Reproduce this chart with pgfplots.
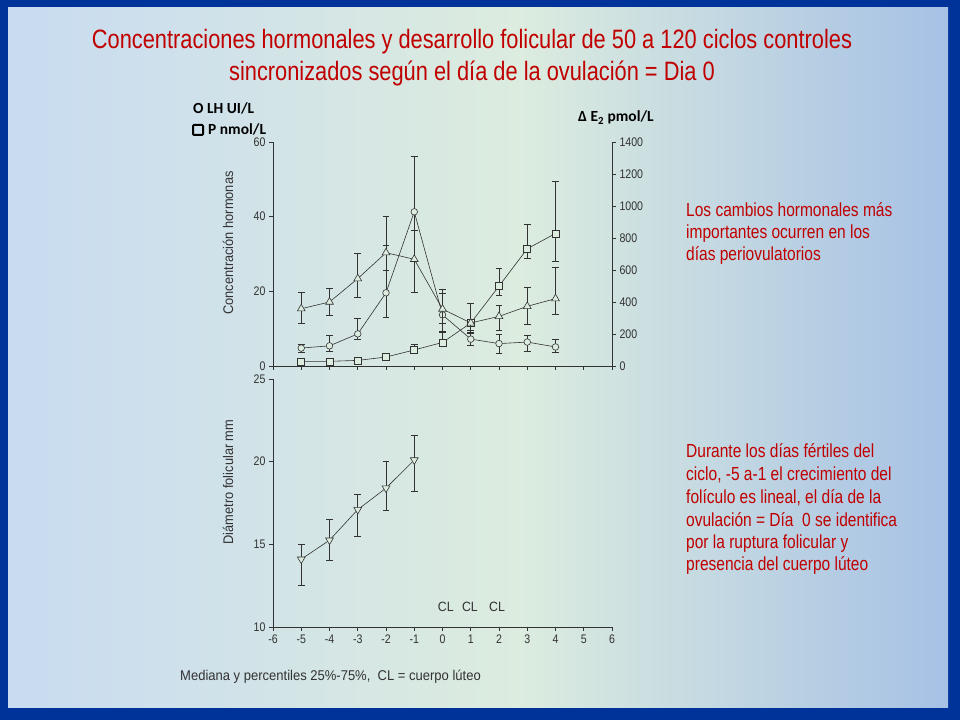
\documentclass[border=0pt]{standalone}
\usepackage{pgfplots}
\pgfplotsset{compat=1.18}
\usepackage{fontspec}
\setmainfont{Liberation Sans}
\newfontfamily\narrow[FakeStretch=0.82]{Liberation Sans}
\newfontfamily\chartf[FakeStretch=0.92]{Liberation Sans}
\newfontfamily\tickf[FakeStretch=0.85]{Liberation Sans}
\newfontfamily\calib{Carlito}
\definecolor{frame}{RGB}{0,51,153}
\definecolor{bgL}{RGB}{200,219,240}
\definecolor{bgM}{RGB}{220,236,223}
\definecolor{bgR}{RGB}{166,193,229}
\definecolor{titred}{RGB}{192,0,0}
\definecolor{ink}{RGB}{50,50,50}
\pgfplotsset{
  every axis/.append style={
    scale only axis, anchor=south west,
    axis line style={ink, line width=0.6pt},
    tick align=outside, major tick length=4bp,
    tick style={ink, line width=0.6pt},
    tick label style={font=\tickf\fontsize{12.5}{13}\selectfont, text=ink},
    /pgf/number format/assume math mode=true,
    /pgf/number format/1000 sep={},
    clip=false,
  },
  ser/.style={ink, line width=0.6pt,
    error bars/y dir=both, error bars/y explicit,
    error bars/error bar style={ink, line width=0.7pt},
    error bars/error mark options={ink, rotate=90, mark size=3.5pt, line width=0.8pt}},
}
\begin{document}
\begin{tikzpicture}[x=1bp,y=1bp]
\useasboundingbox (0,0) rectangle (960,720);
\fill[frame] (0,0) rectangle (960,720);
\shade[left color=bgL, right color=bgM] (8,12) rectangle (521,712);
\shade[left color=bgM, right color=bgR] (520,12) rectangle (948,712);

% title
\node[anchor=base, titred, font=\narrow\fontsize{26.7}{32}\selectfont] at (472,671) {Concentraciones hormonales y desarrollo folicular de 50 a 120 ciclos controles};
\node[anchor=base, titred, font=\narrow\fontsize{26.7}{32}\selectfont] at (472,639) {sincronizados según el día de la ovulación = Dia 0};

% top axis (LH, P)
\begin{axis}[at={(273bp,354bp)}, width=339bp, height=224bp,
  xmin=-6, xmax=6, ymin=0, ymax=60,
  axis x line*=bottom, axis y line*=left,
  xtick={-6,...,6}, xticklabels={}, ytick={0,20,40,60}]
\addplot+[mark=*, mark size=3.3pt, mark options={solid, fill=bgM, line width=0.6pt}, ser] table[x=x, y=y, y error plus=ep, y error minus=em] {
x y ep em
-5 4.8 0.9 1.2
-4 5.4 2.7 1.5
-3 8.6 4.1 1.5
-2 19.6 20.4 6.7
-1 41.3 14.8 21.7
0 13.7 6.7 4.6
1 7.2 1.6 1.8
2 6.0 2.4 2.5
3 6.4 1.8 2.6
4 5.1 2.0 1.5
};
\addplot+[mark=square*, mark size=3.5pt, mark options={solid, fill=bgM, line width=0.6pt}, ser] table[x=x, y=y, y error plus=ep, y error minus=em] {
x y ep em
-5 1.25 0 0
-4 1.25 0 0
-3 1.5 0 0
-2 2.4 0 0
-1 4.3 1.4 1.0
0 6.3 2.9 1.0
1 11.5 5.3 2.0
2 21.4 4.7 2.5
3 31.4 6.6 2.5
4 35.5 14.0 7.6
};
\end{axis}

% top axis right (E2)
\begin{axis}[at={(273bp,354bp)}, width=339bp, height=224bp,
  xmin=-6, xmax=6, ymin=0, ymax=1400,
  axis y line*=right, axis x line=none,
  ytick={0,200,...,1400}]
\addplot+[mark=triangle*, mark size=4.5pt, mark options={solid, fill=bgM, line width=0.6pt}, ser] table[x=x, y=y, y error plus=ep, y error minus=em] {
x y ep em
-5 358 104 89
-4 400 83 83
-3 546 156 119
-2 708 48 108
-1 667 183 209
0 356 100 90
1 269 125 60
2 310 69 89
3 373 121 111
4 421 194 100
};
\end{axis}

% bottom axis (follicle diameter)
\begin{axis}[at={(273bp,93bp)}, width=339bp, height=248bp,
  xmin=-6, xmax=6, ymin=10, ymax=25,
  axis x line*=bottom, axis y line*=left,
  xtick={-6,...,6}, ytick={10,15,20,25}]
\addplot+[mark=triangle*, mark size=4.5pt, mark options={solid, fill=bgM, line width=0.6pt, rotate=180}, ser] table[x=x, y=y, y error plus=ep, y error minus=em] {
x y ep em
-5 14.1 0.9 1.6
-4 15.25 1.25 1.25
-3 17.1 0.95 1.6
-2 18.4 1.6 1.35
-1 20.1 1.5 1.9
};
\node[ink, font=\chartf\fontsize{13.5}{15}\selectfont] at (axis cs:0.12,11.2) {CL};
\node[ink, font=\chartf\fontsize{13.5}{15}\selectfont] at (axis cs:0.97,11.2) {CL};
\node[ink, font=\chartf\fontsize{13.5}{15}\selectfont] at (axis cs:1.93,11.2) {CL};
\end{axis}

% axis titles
\node[rotate=90, ink, font=\chartf\fontsize{14}{15}\selectfont] at (228,477) {Concentración hormonas};
\node[rotate=90, ink, font=\chartf\fontsize{14}{15}\selectfont] at (228,238) {Diámetro folicular mm};

% legend texts
\node[anchor=base west, inner sep=0pt, font=\calib\bfseries\fontsize{15.5}{16}\selectfont] at (193,606) {O LH UI/L};
\draw[line width=2bp, rounded corners=1bp] (193,585) rectangle (203,595);
\node[anchor=base west, inner sep=0pt, font=\calib\bfseries\fontsize{15.5}{16}\selectfont] at (208,585) {P nmol/L};
\node[anchor=base west, inner sep=0pt, font=\calib\bfseries\fontsize{15.5}{16}\selectfont] at (578,598) {Δ E\textsubscript{2} pmol/L};

% note
\node[anchor=base west, inner sep=0pt, ink, font=\chartf\fontsize{14.2}{15}\selectfont] at (180,39) {Mediana y percentiles 25\%-75\%,\ \ CL = cuerpo lúteo};

% right texts
\begin{scope}[every node/.style={anchor=base west, inner sep=0pt, titred, font=\narrow\fontsize{19}{22}\selectfont}]
\node at (686,503) {Los cambios hormonales más};
\node at (686,481) {importantes ocurren en los};
\node at (686,459) {días periovulatorios};
\node at (686,262) {Durante los días fértiles del};
\node at (686,239) {ciclo, -5 a-1 el crecimiento del};
\node at (686,216) {folículo es lineal, el día de la};
\node at (686,193) {ovulación = Día\ \ 0 se identifica};
\node at (686,171) {por la ruptura folicular y};
\node at (686,149) {presencia del cuerpo lúteo};
\end{scope}
\end{tikzpicture}
\end{document}
